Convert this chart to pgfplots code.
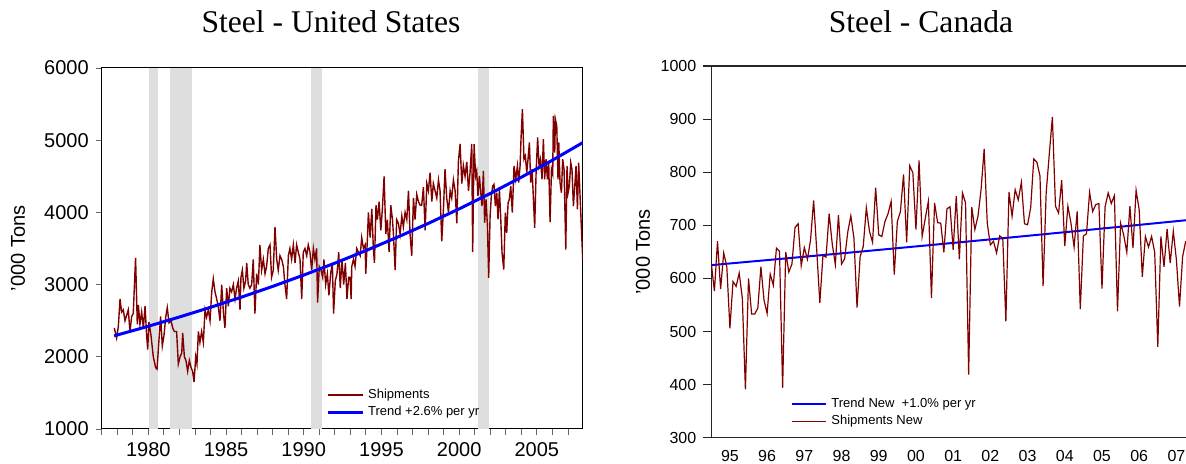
\documentclass[border=0pt]{standalone}
\usepackage{fontspec}
\setmainfont{Liberation Sans}
\newfontfamily\titlefont{Liberation Serif}
\usepackage{pgfplots}
\pgfplotsset{compat=1.18}
\definecolor{shipred}{RGB}{128,0,0}
\definecolor{trendblue}{RGB}{0,0,255}
\definecolor{recess}{RGB}{222,222,222}
\begin{document}
\begin{tikzpicture}
% ---------------- Left panel: United States ----------------
\begin{axis}[
  at={(50.85pt,17.5pt)}, anchor=south west,
  scale only axis, width=240.5pt, height=180.5pt,
  xmin=1977, xmax=2007.95, ymin=1000, ymax=6000,
  xtick={1980,1985,...,2005}, minor xtick={1977,...,2007},
  ytick={1000,2000,...,6000},
  tick pos=left, tick align=outside,
  major tick length=3pt, minor tick length=3pt,
  tick style={gray!80!black, line width=0.4pt},
  /pgf/number format/1000 sep={},
  /pgf/number format/assume math mode=true,
  ticklabel style={font=\fontsize{10}{12}\selectfont},
  ylabel={'000 Tons},
  ylabel style={font=\fontsize{10}{12}\selectfont, at={(axis description cs:-0.174,0.5)}, anchor=center},
  axis line style={black, line width=0.5pt},
  legend style={draw=none, fill=none, font=\fontsize{6.5}{7.5}\selectfont,
    at={(axis description cs:0.455,0.005)}, anchor=south west, row sep=-1.5pt},
  legend cell align=left,
]
\addplot[draw=none, fill=recess, forget plot] coordinates {(1980.04,1000)(1980.04,6000)(1980.6,6000)(1980.6,1000)} -- cycle;
\addplot[draw=none, fill=recess, forget plot] coordinates {(1981.4,1000)(1981.4,6000)(1982.8,6000)(1982.8,1000)} -- cycle;
\addplot[draw=none, fill=recess, forget plot] coordinates {(1990.45,1000)(1990.45,6000)(1991.17,6000)(1991.17,1000)} -- cycle;
\addplot[draw=none, fill=recess, forget plot] coordinates {(2001.2,1000)(2001.2,6000)(2001.9,6000)(2001.9,1000)} -- cycle;
\addplot[shipred, line width=0.7pt] coordinates {
(1977.81,2400)(1977.96,2260)(1978.07,2420)(1978.18,2800)(1978.28,2620)(1978.39,2650)(1978.50,2500)(1978.61,2580)(1978.71,2650)(1978.82,2350)(1978.93,2560)(1979.03,2600)(1979.18,3370)(1979.29,2450)(1979.36,2720)(1979.46,2450)(1979.57,2620)(1979.68,2400)(1979.79,2700)(1979.89,2300)(1979.96,2100)(1980.04,2480)(1980.17,2300)(1980.32,2000)(1980.47,1850)(1980.56,1830)(1980.69,2250)(1980.79,2560)(1980.90,2150)(1981.01,2300)(1981.12,2550)(1981.22,2680)(1981.33,2470)(1981.46,2500)(1981.57,2400)(1981.67,2350)(1981.82,2350)(1981.93,1900)(1982.04,2000)(1982.15,2050)(1982.21,2330)(1982.32,2000)(1982.42,1950)(1982.53,1800)(1982.64,1950)(1982.75,1850)(1982.85,1800)(1982.94,1650)(1983.05,2000)(1983.13,1900)(1983.22,2350)(1983.32,2200)(1983.43,2350)(1983.54,2200)(1983.65,2650)(1983.75,2550)(1983.86,2650)(1983.97,2500)(1984.08,2900)(1984.18,3080)(1984.29,2900)(1984.40,2800)(1984.50,2700)(1984.61,2500)(1984.72,3000)(1984.83,2620)(1984.93,2400)
(1985.04,2950)(1985.15,2700)(1985.25,2950)(1985.36,2900)(1985.47,3000)(1985.58,2800)(1985.68,2950)(1985.79,3050)(1985.90,2650)(1985.96,3100)(1986.05,3200)(1986.15,2950)(1986.26,3050)(1986.33,3300)(1986.43,3000)(1986.54,2950)(1986.65,3000)(1986.75,3350)(1986.86,2600)(1986.97,3150)(1987.08,3000)(1987.18,3550)(1987.29,3200)(1987.40,3350)(1987.51,3150)(1987.61,3250)(1987.72,3500)(1987.83,3550)(1987.93,3100)(1988.04,3200)(1988.15,3800)(1988.26,3350)(1988.36,3200)(1988.47,3400)(1988.58,3350)(1988.69,3250)(1988.79,3000)(1988.90,2800)(1989.01,3400)(1989.11,3500)(1989.22,3350)(1989.33,3550)(1989.44,3300)(1989.54,3550)(1989.65,3450)(1989.76,3350)(1989.87,2800)(1989.97,3450)(1990.08,3500)(1990.19,3400)(1990.29,3550)(1990.40,3450)(1990.51,3200)(1990.62,3500)(1990.72,3350)(1990.83,3500)(1990.89,2750)(1991.00,3250)(1991.11,3200)(1991.22,3100)(1991.30,3350)(1991.41,3000)(1991.52,3150)(1991.62,2850)(1991.73,3150)(1991.84,3300)(1991.92,2600)(1992.03,3050)(1992.14,3150)(1992.25,3450)(1992.35,2950)(1992.46,3350)(1992.57,3000)(1992.68,3300)(1992.78,2800)(1992.89,3100)
(1992.98,3100)(1993.05,2800)(1993.09,3250)(1993.20,3350)(1993.30,3250)(1993.41,3500)(1993.52,3450)(1993.63,3400)(1993.73,3650)(1993.84,3500)(1993.95,3550)(1993.99,3150)(1994.10,3650)(1994.16,4000)(1994.27,3650)(1994.38,4050)(1994.48,3500)(1994.55,3300)(1994.65,4100)(1994.74,3900)(1994.85,4150)(1994.96,3750)(1995.06,4050)(1995.17,4500)(1995.28,3700)(1995.38,3900)(1995.49,3450)(1995.60,4100)(1995.71,3900)(1995.77,3700)(1995.88,3200)(1995.98,3900)(1996.09,3850)(1996.20,3700)(1996.31,3950)(1996.41,3800)(1996.52,4000)(1996.63,3900)(1996.74,4300)(1996.84,3700)(1996.95,3400)(1997.06,4200)(1997.16,3900)(1997.27,4250)(1997.38,4150)(1997.49,4100)(1997.59,4100)(1997.70,4350)(1997.81,3750)(1997.92,4400)(1998.02,4300)(1998.13,4550)(1998.24,4150)(1998.34,4400)(1998.45,4300)(1998.56,4200)(1998.67,4450)(1998.77,4300)(1998.88,3600)(1998.99,4050)(1999.09,4600)(1999.20,4200)(1999.31,4000)(1999.42,4300)(1999.52,4200)(1999.63,4450)(1999.74,4300)(1999.85,3850)(1999.95,4700)(2000.06,4950)(2000.17,4400)(2000.27,4650)(2000.38,4500)(2000.49,4700)(2000.60,4300)(2000.70,4550)(2000.81,4950)(2000.87,3450)
(2000.96,4945)(2001.06,4505)(2001.13,4574)(2001.21,4227)(2001.30,4505)(2001.39,4273)(2001.47,4088)(2001.56,4574)(2001.64,3857)(2001.73,4181)(2001.82,3810)(2001.90,3093)(2001.99,3949)(2002.07,4227)(2002.16,4366)(2002.24,4389)(2002.33,4088)(2002.42,4273)(2002.50,3903)(2002.59,4320)(2002.67,3949)(2002.76,3440)(2002.87,3209)(2002.97,3996)(2003.06,3718)(2003.15,4135)(2003.23,4181)(2003.32,4366)(2003.42,3996)(2003.53,4644)(2003.64,4459)(2003.75,4644)(2003.83,4412)(2003.92,4644)(2003.98,5014)(2004.07,5431)(2004.17,4736)(2004.26,4783)(2004.35,4551)(2004.43,4736)(2004.52,4968)(2004.60,4412)(2004.69,4598)(2004.78,4181)(2004.86,3787)(2004.95,4551)(2005.05,5037)(2005.14,4644)(2005.23,4736)(2005.33,4459)(2005.42,5014)(2005.50,4459)(2005.59,4736)(2005.68,4459)(2005.76,4690)(2005.85,3866)(2005.94,4598)(2006.02,4528)(2006.06,5338)(2006.15,4829)(2006.19,5292)(2006.28,5199)(2006.36,4459)(2006.41,4968)(2006.49,4412)(2006.58,4273)(2006.66,4736)(2006.75,4598)(2006.86,3486)(2006.94,4644)(2007.01,4273)(2007.09,4366)(2007.18,4690)(2007.26,4598)(2007.35,4088)(2007.44,4366)(2007.52,4644)(2007.61,4042)(2007.69,4690)(2007.95,3347)
};
\addlegendentry{Shipments}
\addplot[trendblue, line width=1.5pt] coordinates {
(1977.8,2290)(1980,2423)(1982,2551)(1984,2685)(1986,2827)(1988,2975)(1990,3132)(1992,3297)(1994,3471)(1996,3654)(1998,3846)(2000,4049)(2002,4262)(2004,4487)(2006,4723)(2007.95,4966)
};
\addlegendentry{Trend +2.6\% per yr}
\end{axis}
% ---------------- Right panel: Canada ----------------
\begin{axis}[
  at={(355.65pt,13.15pt)}, anchor=south west,
  scale only axis, width=237.35pt, height=185.85pt,
  xmin=0, xmax=153.1, ymin=300, ymax=1000,
  axis x line=box, axis y line=left,
  axis line style={-, line width=0.8pt, black!85},
  xtick={6,18,...,150},
  xticklabels={95,96,97,98,99,00,01,02,03,04,05,06,07},
  xtick style={draw=none},
  xticklabel style={yshift=1.2pt},
  ytick={300,400,...,1000},
  ytick style={black!85, line width=0.6pt},
  tick align=outside, major tick length=4pt,
  /pgf/number format/1000 sep={},
  /pgf/number format/assume math mode=true,
  ticklabel style={font=\fontsize{8}{10}\selectfont},
  ylabel={'000 Tons},
  ylabel style={font=\fontsize{10}{12}\selectfont, at={(axis description cs:-0.144,0.5)}, anchor=center},
  legend style={draw=none, fill=none, font=\fontsize{6.5}{7.5}\selectfont,
    at={(axis description cs:0.155,0.005)}, anchor=south west, row sep=-1.5pt},
  legend cell align=left,
]
\addplot[trendblue, line width=1pt] coordinates {
(0,625)(24,637.6)(48,650.4)(72,663.5)(96,676.8)(120,690.4)(144,704.3)(156,711.2)
};
\addlegendentry{Trend New\ \ +1.0\% per yr}
\addplot[shipred, line width=0.6pt] coordinates {
(0,628)(1,576)(2,670)(3,580)(4,648)(5,622)(6,506)(7,594)(8,585)(9,610)(10,563)(11,391)(12,600)(13,533)(14,533)(15,544)(16,622)(17,559)(18,534)(19,608)(20,587)(21,657)(22,651)(23,394)(24,650)(25,612)(26,627)(27,696)(28,703)(29,624)(30,658)(31,636)(32,672)(33,747)(34,653)(35,554)(36,643)(37,640)(38,722)(39,665)(40,626)(41,719)(42,627)(43,637)(44,687)(45,718)(46,676)(47,545)(48,641)(49,660)(50,733)(51,689)(52,668)(53,771)(54,682)(55,679)(56,707)(57,722)(58,745)(59,607)(60,707)(61,726)(62,796)(63,668)(64,812)(65,799)(66,692)(67,822)(68,679)(69,713)(70,745)(71,563)(72,742)(73,705)(74,704)(75,649)(76,731)(77,735)(78,654)(79,755)(80,636)(81,761)(82,742)(83,419)(84,734)(85,692)(86,717)(87,767)(88,844)(89,704)(90,663)(91,670)(92,648)(93,680)(94,676)(95,519)(96,763)(97,717)(98,767)(99,748)(100,781)(101,703)(102,701)(103,733)(104,825)(105,819)(106,793)(107,586)(108,761)(109,834)(110,904)(111,736)(112,723)(113,785)(114,661)(115,736)(116,704)(117,659)(118,726)(119,542)(120,680)(121,684)(122,762)(123,726)(124,739)(125,741)(126,581)(127,735)(128,761)(129,741)(130,756)(131,538)(132,704)(133,682)(134,649)(135,736)(136,657)(137,766)(138,729)(139,603)(140,679)(141,659)(142,679)(143,649)(144,471)(145,679)(146,622)(147,693)(148,629)(149,689)(150,635)(151,547)(152,641)(153,670)
};
\addlegendentry{Shipments New}
\end{axis}
\node[font=\titlefont\fontsize{15.8}{19}\selectfont] at (165.5pt,221pt) {Steel - United States};
\node[font=\titlefont\fontsize{15.8}{19}\selectfont] at (460.5pt,221pt) {Steel - Canada};
\pgfresetboundingbox
\useasboundingbox (0pt,0pt) rectangle (593pt,232pt);
\end{tikzpicture}
\end{document}
